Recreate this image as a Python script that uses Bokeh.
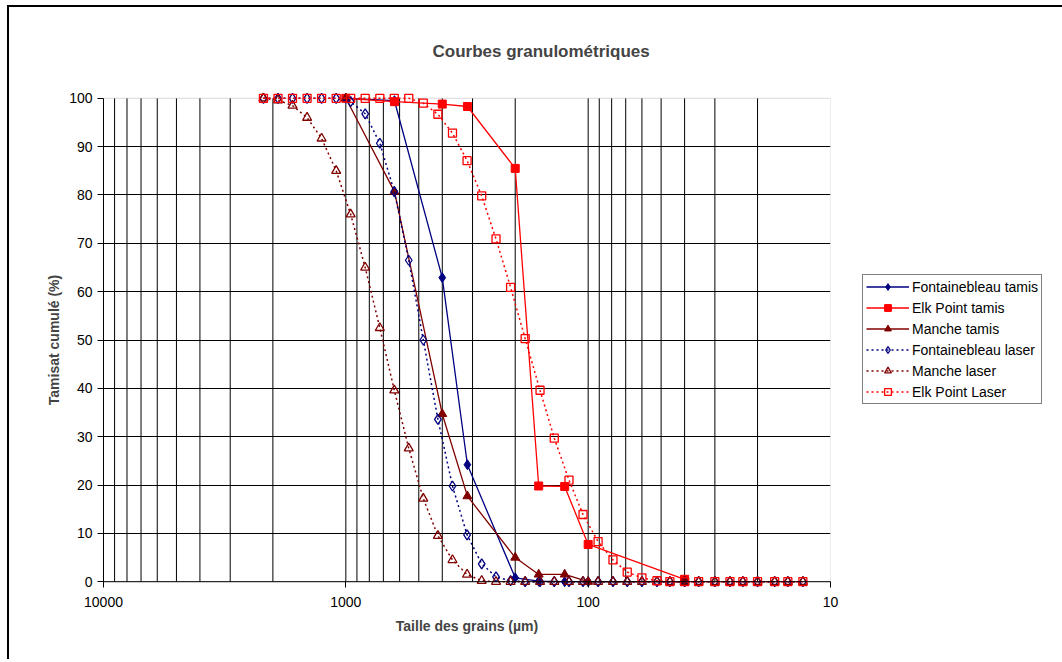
from bokeh.plotting import figure
from bokeh.models import (Range1d, FixedTicker, Legend, LegendItem, NumeralTickFormatter,
                          BoxAnnotation, Span)
from bokeh.embed import file_html
from bokeh.resources import INLINE

# ---------------- data ----------------
laser_sizes = [2188, 1905, 1660, 1445, 1259, 1096, 955, 832, 724, 631, 550, 479, 417, 363,
               316, 275, 240, 209, 182, 158, 138, 120, 105, 91, 79, 69, 60, 52, 46, 40,
               35, 30, 26, 23, 20, 17, 15, 13]

fontainebleau_laser = [100, 100, 100, 100, 100, 100, 99.3, 96.8, 90.7, 80.7, 66.5, 50.0, 33.6,
                       19.8, 9.7, 3.7, 1.0, 0.2, 0, 0, 0, 0, 0, 0, 0, 0, 0, 0, 0, 0,
                       0, 0, 0, 0, 0, 0, 0, 0]
manche_laser = [100, 99.6, 98.5, 96.0, 91.7, 85.0, 76.0, 65.0, 52.5, 39.6, 27.6, 17.2, 9.5,
                4.5, 1.5, 0.2, 0, 0, 0, 0, 0, 0, 0, 0, 0, 0, 0, 0, 0, 0,
                0, 0, 0, 0, 0, 0, 0, 0]
elk_laser = [100, 100, 100, 100, 100, 100, 100, 100, 100, 100, 100, 99.0, 96.7, 92.8,
             87.1, 79.8, 70.9, 60.9, 50.3, 39.6, 29.7, 21.0, 13.9, 8.3, 4.5, 2.0, 0.8, 0.2,
             0, 0, 0, 0, 0, 0, 0, 0, 0, 0]

sieve_sizes = [1000, 630, 400, 315, 200, 160, 125, 100, 40]
fontainebleau_tamis = [100, 99.5, 62.9, 24.2, 0.8, 0.1, 0, 0, 0]
elk_tamis = [100, 99.3, 98.8, 98.3, 85.5, 19.8, 19.7, 7.7, 0.5]
manche_tamis = [100, 80.7, 34.7, 17.7, 5.0, 1.5, 1.5, 0, 0]

x_major = [10000, 1000, 100, 10]
y_ticks = [0, 10, 20, 30, 40, 50, 60, 70, 80, 90, 100]

title_text = "Courbes granulométriques"
x_title = "Taille des grains (µm)"
y_title = "Tamisat cumulé (%)"

# ---------------- figure ----------------
FONT = "Liberation Sans"
NAVY, RED, MAROON = "#000080", "#FF0000", "#800000"
pad = 1.2

p = figure(frame_width=727, frame_height=495, x_axis_type="log",
           x_range=Range1d(10000, 10), y_range=Range1d(-pad, 100 + pad),
           output_backend="svg", toolbar_location=None,
           min_border_left=94, min_border_right=10, min_border_top=85, min_border_bottom=72)
p.styles = {"margin-left": "7px", "margin-top": "5px",
            "border-left": "2px solid black", "border-top": "2px solid black"}
p.background_fill_color = "white"
p.border_fill_color = "white"
p.outline_line_color = None

# title
p.title.text = title_text
p.title.text_font = FONT
p.title.text_font_size = "17px"
p.title.text_font_style = "bold"
p.title.align = "left"
p.title.offset = 329
p.title.standoff = 64

# grids
p.xgrid.visible = False
p.ygrid.ticker = FixedTicker(ticks=y_ticks[1:-1])
p.ygrid.grid_line_color = "black"
p.ygrid.grid_line_width = 1

grid_x = [m * 10 ** e for e in (1, 2, 3) for m in range(1, 10) if not (e == 1 and m == 1)]
p.segment(x0=grid_x, y0=[0] * len(grid_x), x1=grid_x, y1=[100] * len(grid_x),
          line_color="black", line_width=1, level="underlay")

frame_box = BoxAnnotation(left=10000, right=10, bottom=0, top=100, fill_alpha=0,
                          line_color="#808080", line_width=1, level="underlay")
p.add_layout(frame_box)
p.add_layout(Span(location=0, dimension="width", line_color="black", line_width=1))

# axes
xa = p.xaxis[0]
xa.ticker = FixedTicker(ticks=x_major, minor_ticks=[])
xa.formatter = NumeralTickFormatter(format="0")
xa.axis_line_color = None
xa.major_tick_in = 6
xa.major_tick_out = 0
xa.minor_tick_line_color = None
xa.major_tick_line_color = "black"
xa.major_label_standoff = 9
xa.major_label_text_font = FONT
xa.major_label_text_font_size = "14px"
xa.major_label_text_color = "black"
xa.axis_label = x_title
xa.axis_label_text_font = FONT
xa.axis_label_text_font_size = "14px"
xa.axis_label_text_font_style = "bold"
xa.axis_label_standoff = 8

ya = p.yaxis[0]
ya.ticker = FixedTicker(ticks=y_ticks, minor_ticks=[])
ya.bounds = (0, 100)
ya.axis_line_color = "black"
ya.major_tick_in = 0
ya.major_tick_out = 6
ya.minor_tick_line_color = None
ya.major_label_standoff = 5
ya.major_label_text_font = FONT
ya.major_label_text_font_size = "14px"
ya.major_label_text_color = "black"
ya.axis_label = y_title
ya.axis_label_text_font = FONT
ya.axis_label_text_font_size = "14px"
ya.axis_label_text_font_style = "bold"
ya.axis_label_standoff = 4

# ---------------- series ----------------
items = []

def series(label, xs, ys, color, marker, size, filled, dotted):
    lr = p.line(xs, ys, line_color=color, line_width=1.5 if dotted else 1.3,
                line_dash="2 3" if dotted else "solid")
    sr = p.scatter(xs, ys, marker=marker, size=size, line_color=color,
                   line_width=1.3 if not filled else 1,
                   fill_color=color if filled else None, fill_alpha=1 if filled else 0)
    items.append(LegendItem(label=label, renderers=[lr, sr]))

series("Fontainebleau tamis", sieve_sizes, fontainebleau_tamis, NAVY, "diamond", 10, True, False)
series("Elk Point tamis", sieve_sizes, elk_tamis, RED, "square", 8, True, False)
series("Manche tamis", sieve_sizes, manche_tamis, MAROON, "triangle", 9, True, False)
series("Fontainebleau laser", laser_sizes, fontainebleau_laser, NAVY, "diamond", 10, False, True)
series("Manche laser", laser_sizes, manche_laser, MAROON, "triangle", 9, False, True)
series("Elk Point Laser", laser_sizes, elk_laser, RED, "square", 8, False, True)

legend = Legend(items=items, location=(32, 183))
legend.label_text_font = FONT
legend.label_text_font_size = "14px"
legend.label_text_color = "black"
legend.glyph_width = 43
legend.glyph_height = 17
legend.label_height = 17
legend.label_standoff = 3
legend.spacing = 4
legend.padding = 3
legend.margin = 0
legend.border_line_color = "black"
legend.border_line_width = 1
legend.background_fill_color = "white"
legend.background_fill_alpha = 1
p.add_layout(legend, "right")

open("out.html", "w").write(file_html(p, INLINE))
